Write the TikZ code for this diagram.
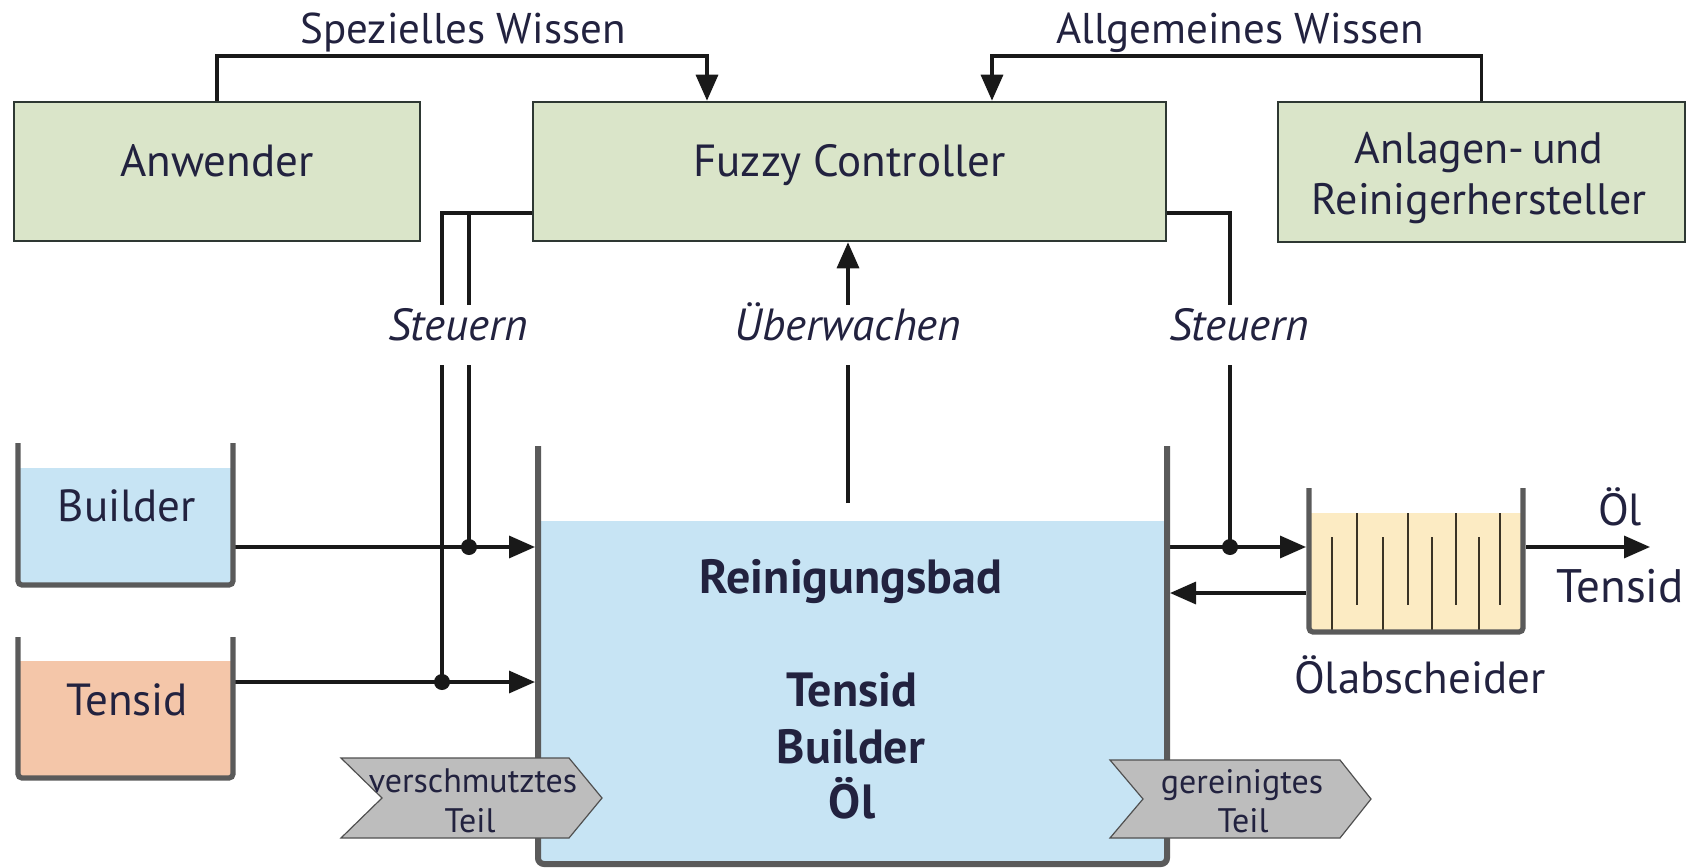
\documentclass[tikz,border=0pt]{standalone}
\usepackage{fontspec}
\setmainfont{PT Sans}
\usetikzlibrary{arrows.meta,calc}
\definecolor{boxfill}{HTML}{DAE5C9}
\definecolor{boxline}{HTML}{2E3833}
\definecolor{txtc}{HTML}{22223F}
\definecolor{water}{HTML}{C7E4F4}
\definecolor{salmon}{HTML}{F4C6A9}
\definecolor{oil}{HTML}{FCEBC3}
\definecolor{wallc}{HTML}{5A5A5A}
\definecolor{chevc}{HTML}{BDBDBD}
\definecolor{chevline}{HTML}{505050}
\definecolor{bafflec}{HTML}{3A3325}
\begin{document}
\begin{tikzpicture}[x=0.5pt,y=-0.5pt,
  box/.style={draw=boxline, line width=1.3pt, fill=boxfill, inner sep=0pt},
  boxtxt/.style={text=txtc, font=\fontsize{22.5}{26}\selectfont, text height=0.7em, text depth=0.2em},
  conn/.style={line width=1.7pt, draw=black!90},
  arr/.style={conn, -{Triangle[length=13pt,width=11pt]}},
  lab/.style={text=txtc, inner sep=0pt, anchor=base},
  toplab/.style={lab, font=\fontsize{21.5}{25}\selectfont},
  midlab/.style={text=txtc, inner sep=0pt, minimum height=30pt, font=\fontsize{22.5}{26}\selectfont\itshape, text height=0.7em, text depth=0.2em},
  tanklab/.style={lab, font=\fontsize{22.5}{26}\selectfont},
  bathlab/.style={lab, font=\fontsize{24}{28}\selectfont\bfseries},
  chevlab/.style={lab, font=\fontsize{17}{20}\selectfont},
  smallwall/.style={draw=wallc, line width=2.6pt, rounded corners=2pt},
  bigwall/.style={draw=wallc, line width=3pt, rounded corners=3pt},
  baffle/.style={draw=bafflec, line width=0.85pt},
  chevron/.style={fill=chevc, draw=chevline, line width=0.6pt},
  dot/.style={fill=black!90}
]
\useasboundingbox (0,0) rectangle (1694,868);

% ---------- boxes ----------
\node[box, boxtxt, minimum width=203pt, minimum height=69.5pt] (anw) at (217,171.5) {Anwender};
\node[box, boxtxt, minimum width=316.5pt, minimum height=69.5pt] (fc) at (849.5,171.5) {Fuzzy Controller};
\node[box, minimum width=203.5pt, minimum height=70pt] (anl) at (1481.5,172) {};
\node[text=txtc, inner sep=0pt, align=center, font=\fontsize{22}{25.5}\selectfont] (anltxt) at (1479,178) {Anlagen-\,und\\Reinigerhersteller};

% ---------- knowledge arrows ----------
\node[toplab] (sptxt) at (463,43) {Spezielles Wissen};
\node[toplab] (altxt) at (1240,43) {Allgemeines Wissen};
\coordinate (sw) at (707,56);
\coordinate (aw) at (992,56);
\draw[arr] (anw.north) |- (sw) -- (sw |- fc.north);
\draw[arr] (anl.north) |- (aw) -- (aw |- fc.north);

% ---------- tank fills ----------
\fill[water] (18,468) rectangle (233,585);
\fill[salmon] (18,661) rectangle (233,778);
\fill[water] (538,521) rectangle (1167,864);
\fill[oil] (1309,513) rectangle (1523,632);

% ---------- control labels ----------
\node[midlab] (stL) at (458,335) {Steuern};
\node[midlab] (ueb) at (848,335) {Überwachen};
\node[midlab] (stR) at (1239,335) {Steuern};

% ---------- coordinates ----------
\coordinate (sL1) at (442,213);
\coordinate (sL2) at (469,213);
\coordinate (sR) at (1230,213);
\coordinate (d1) at (469,547);
\coordinate (d2) at (442,682);
\coordinate (d3) at (1230,547);
\coordinate (bOut) at (235,547);
\coordinate (tOut) at (235,682);
\coordinate (bathL1) at (535,547);
\coordinate (bathL2) at (535,682);
\coordinate (bathR1) at (1170,547);
\coordinate (bathR2) at (1170,593);
\coordinate (oelL1) at (1306,547);
\coordinate (oelL2) at (1306,593);
\coordinate (oelR) at (1526,547);
\coordinate (outEnd) at (1650,547);
\coordinate (mon) at (848,503);

% ---------- control lines ----------
\draw[conn] (fc.west |- sL1) -- (sL1) -- (sL1 |- stL.north);
\draw[conn] (sL2) -- (sL2 |- stL.north);
\draw[conn] (sL1 |- stL.south) -- (d2);
\draw[conn] (sL2 |- stL.south) -- (d1);
\draw[conn] (fc.east |- sR) -- (sR) -- (sR |- stR.north);
\draw[conn] (sR |- stR.south) -- (d3);
\draw[conn] (mon) -- (mon |- ueb.south);
\draw[arr] (mon |- ueb.north) -- (mon |- fc.south);

% ---------- flow arrows ----------
\draw[arr] (bOut) -- (bathL1);
\draw[arr] (tOut) -- (bathL2);
\draw[arr] (bathR1) -- (oelL1);
\draw[arr] (oelL2) -- (bathR2);
\draw[arr] (oelR) -- (outEnd);
\fill[dot] (d1) circle (4pt);
\fill[dot] (d2) circle (4pt);
\fill[dot] (d3) circle (4pt);

% ---------- baffles ----------
\foreach \x in {1332,1383,1432,1479} \draw[baffle] (\x,537) -- (\x,632);
\foreach \x in {1357,1408,1456,1500} \draw[baffle] (\x,513) -- (\x,605);

% ---------- walls ----------
\draw[smallwall] (18,443) -- (18,585) -- (233,585) -- (233,443);
\draw[smallwall] (18,637) -- (18,778) -- (233,778) -- (233,637);
\draw[bigwall] (538,446) -- (538,864) -- (1167,864) -- (1167,446);
\draw[smallwall] (1309,488) -- (1309,632) -- (1523,632) -- (1523,488);

% ---------- chevrons ----------
\draw[chevron] (341,758) -- (569,758) -- (602,798) -- (569,838) -- (341,838) -- (382,798) -- cycle;
\draw[chevron] (1110,760) -- (1340,760) -- (1371,799) -- (1340,838) -- (1110,838) -- (1143,799) -- cycle;
\node[chevlab] (v1) at (473,792) {verschmutztes};
\node[chevlab] (v2) at (470,832) {Teil};
\node[chevlab] (g1) at (1242,793) {gereinigtes};
\node[chevlab] (g2) at (1243,832) {Teil};

% ---------- texts ----------
\node[tanklab] (bldtxt) at (127,521) {Builder};
\node[tanklab] (tnstxt) at (127,715) {Tensid};
\node[bathlab] (b1) at (851,593) {Reinigungsbad};
\node[bathlab] (b2) at (852,706) {Tensid};
\node[bathlab] (b3) at (851,763) {Builder};
\node[bathlab] (b4) at (852,818) {Öl};
\node[tanklab] (oeltxt) at (1420,693) {Ölabscheider};
\node[tanklab] (outoel) at (1620,525) {Öl};
\node[lab, font=\fontsize{23.5}{27}\selectfont] (outtns) at (1620,602) {Tensid};
\end{tikzpicture}
\end{document}
